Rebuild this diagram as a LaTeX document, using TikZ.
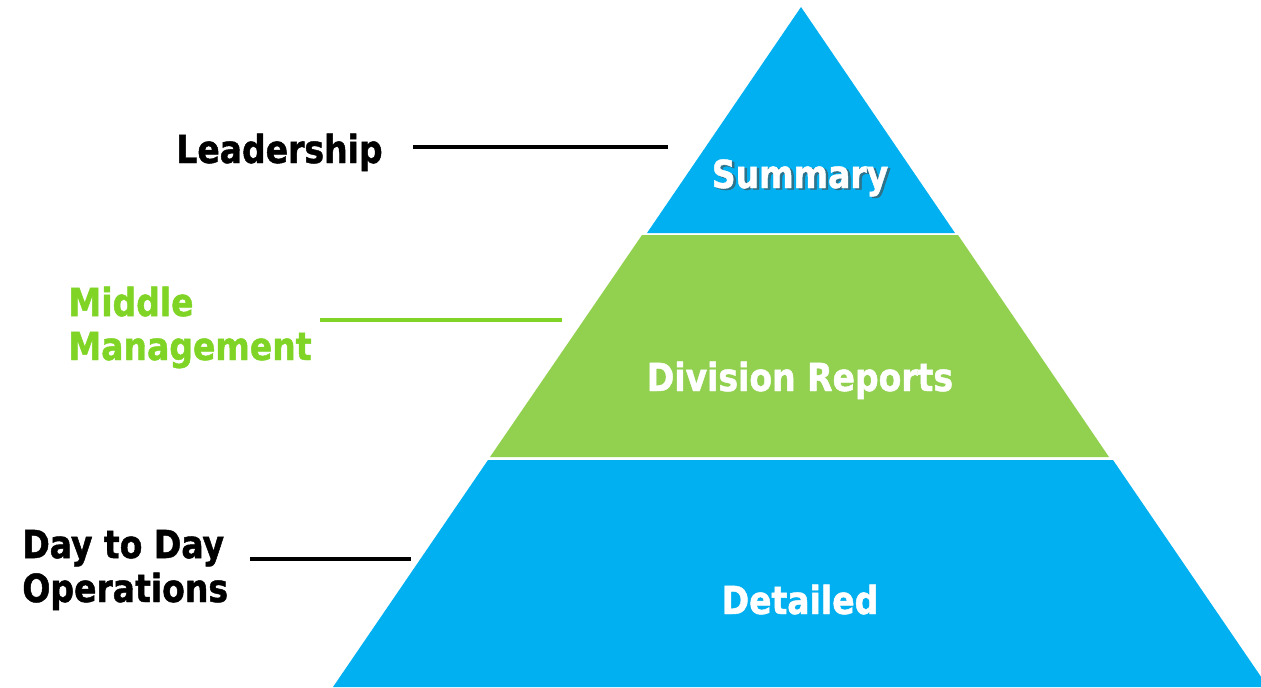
\documentclass[tikz,border=0pt]{standalone}
\usepackage{fontspec}
\setmainfont{DejaVu Sans Condensed}[BoldFeatures={FakeStretch=0.95,FakeBold=1.2}]
\definecolor{tierblue}{RGB}{0,176,240}
\definecolor{tiergreen}{RGB}{146,208,80}
\definecolor{labelgreen}{RGB}{128,212,38}
\begin{document}
\begin{tikzpicture}[x=0.02cm,y=-0.02cm,
  lbl/.style={inner sep=0pt,font=\fontsize{22}{25}\selectfont\bfseries,align=left},
  tiertext/.style={inner sep=0pt,font=\fontsize{22}{25}\selectfont\bfseries,text=white},
  leader/.style={line width=2pt}]
\useasboundingbox (0,0) rectangle (1261,687);
\clip (0,0) rectangle (1261,687);
% pyramid tiers
\fill[tierblue] (801,7) -- (955,233) -- (647,233) -- cycle;
\fill[tiergreen] (642,235) -- (958,235) -- (1109,457) -- (490,457) -- cycle;
\fill[tierblue] (488,460) -- (1113,460) -- (1268,687) -- (333,687) -- cycle;
% tier captions
\node[tiertext,text=black!70,opacity=0.6,anchor=base] (sumshadow) at (802.5,189.5) {Summary};
\node[tiertext,anchor=base] (summary) at (800,188) {Summary};
\node[tiertext,anchor=base] (division) at (800,391) {Division Reports};
\node[tiertext,anchor=base] (detailed) at (800,614) {Detailed};
% audience labels (base anchor sits on the last line)
\node[lbl,anchor=base west] (leadership) at (176,163) {Leadership};
\node[lbl,anchor=base west,text=labelgreen] (middle) at (68,360) {Middle\\Management};
\node[lbl,anchor=base west] (daytoday) at (22,602) {Day to Day\\Operations};
% leader lines
\coordinate (la) at (413,147); \coordinate (lb) at (668,147);
\coordinate (ma) at (320,320); \coordinate (mb) at (562,320);
\coordinate (da) at (250,559); \coordinate (db) at (411,559);
\draw[leader] (la) -- (lb);
\draw[leader,labelgreen,line width=2.3pt] (ma) -- (mb);
\draw[leader] (da) -- (db);
\end{tikzpicture}
\end{document}
